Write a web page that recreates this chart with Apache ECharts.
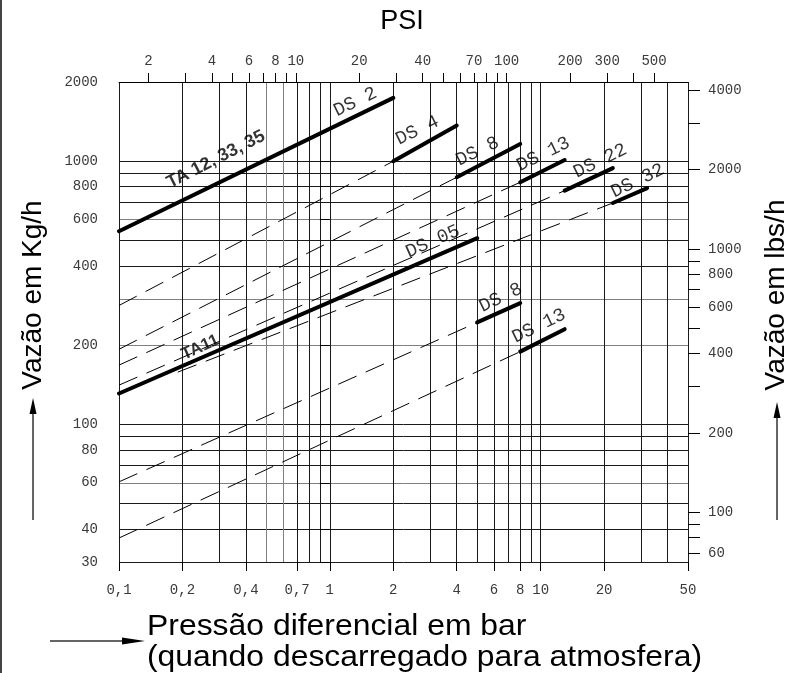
<!DOCTYPE html>
<html>
<head>
<meta charset="utf-8">
<script src="https://cdn.jsdelivr.net/npm/echarts@6/dist/echarts.min.js"></script>
<style>html,body{margin:0;padding:0;background:#fff}#c{width:790px;height:673px}</style>
</head>
<body>
<div id="c"></div>
<script>
// ---------------- data (pressure in bar, flow in kg/h) ----------------
const X_MIN = 0.1, X_MAX = 50;      // bar
const Y_MIN = 30, Y_MAX = 2000;     // kg/h
const PSI_PER_BAR = 14.5;
const LBS_PER_KG = 2.153;           // as drawn on the right-hand scale

const barGrid   = [0.1,0.2,0.3,0.4,0.5,0.6,0.7,0.8,0.9,1,2,3,4,5,6,7,8,9,10,20,30,40,50];
const barLabels = [0.1,0.2,0.4,0.7,1,2,4,6,8,10,20,50];
const kgGrid    = [30,40,50,60,70,80,90,100,200,300,400,500,600,700,800,900,1000,2000];
const kgLabels  = [30,40,60,80,100,200,400,600,800,1000,2000];
const psiTicks  = [2,3,4,5,6,7,8,9,10,20,30,40,50,60,70,80,90,100,200,300,400,500];
const psiLabels = [2,4,6,8,10,20,40,70,100,200,300,500];
const lbsTicks  = [70,80,90,100,200,300,400,500,600,700,800,900,1000,2000,3000,4000];
const lbsLabelAt   = [70,100,200,400,600,800,1000,2000,4000];
const lbsLabelText = ['60','100','200','400','600','800','1000','2000','4000'];

// capacity lines (solid, thick)
const TA_12_33_35 = [[0.1,542],[2,1740]];
const DS_4   = [[2,1000],[4,1366]];
const DS_8A  = [[4,869],[8,1163]];
const DS_13A = [[8,832],[13,1011]];
const DS_22  = [[13,773],[22,941]];
const DS_32  = [[22,694],[32,790]];
const TA11_DS_05 = [[0.1,131],[5,510]];
const DS_8B  = [[5,244],[8,289]];
const DS_13B = [[8,189],[13,230]];

// extension lines (dashed)
const DASH_A = [[0.1,283], DS_4[0]];
const DASH_B = [[0.1,193], DS_8A[0]];
const DASH_C = [[0.1,168], DS_13A[0]];
const DASH_D = [[0.1,141], DS_22[0]];
const DASH_G = [[0.19,158], DS_32[0]];
const DASH_E = [[0.1,60.5], DS_8B[0]];
const DASH_F = [[0.1,37], DS_13B[0]];

const thickLines  = [TA_12_33_35, DS_4, DS_8A, DS_13A, DS_22, DS_32, TA11_DS_05, DS_8B, DS_13B];
const dashedLines = [DASH_A, DASH_B, DASH_C, DASH_D, DASH_G, DASH_E, DASH_F];

// line labels: text, line, anchor point index
const lineLabels = [
  ['TA 12, 33, 35', TA_12_33_35, 0],
  ['DS 2',  TA_12_33_35, 1],
  ['DS 4',  DS_4, 0],
  ['DS 8',  DS_8A, 0],
  ['DS 13', DS_13A, 0],
  ['DS 22', DS_22, 0],
  ['DS 32', DS_32, 0],
  ['TA11',  TA11_DS_05, 0],
  ['DS 05', TA11_DS_05, 1],
  ['DS 8',  DS_8B, 0],
  ['DS 13', DS_13B, 0]
];

// ---------------- styles ----------------
const DARK = '#1a1a1a', GRAY = '#808080';
const barGridColors = barGrid.map(v => (v === 0.5 || v === 0.6) ? GRAY : DARK);
const kgGridColors  = kgGrid.map(v => (v === 60 || v === 200 || v === 300 || v === 600) ? GRAY : DARK);
// label placement: [offset along line, offset across line], rotation, bold, size
const labelStyles = [
  [[119,-20], 27, true, 18],
  [[-36,-13], 26, false, 19],
  [[35,-17], 26, false, 19],
  [[30,-14], 26, false, 19],
  [[33,-15], 26, false, 19],
  [[45,-11], 26, false, 19],
  [[32,-9], 26, false, 19],
  [[93,-9], 24, true, 17],
  [[-42,-15], 24, false, 19],
  [[32,-12], 26, false, 19],
  [[28,-15], 26, false, 19]
];

// ---------------- build ----------------
const L = v => Math.log10(v);
const pt = p => [L(p[0]), L(p[1])];
const fmtNum = v => String(Number(Math.pow(10, v).toPrecision(3))).replace('.', ',');
const nearestIdx = (arr, v) => {
  let bi = 0, bd = Infinity;
  arr.forEach((a, i) => { const d = Math.abs(L(a) - v); if (d < bd) { bd = d; bi = i; } });
  return bi;
};
const tickFont = { fontFamily: 'Liberation Mono', fontSize: 14, color: '#3a3a3a' };

const series = [];
thickLines.forEach(seg => series.push({
  type: 'line', xAxisIndex: 0, yAxisIndex: 0, data: seg.map(pt),
  symbol: 'none', silent: true, z: 5,
  lineStyle: { color: '#000', width: 4, cap: 'round' }
}));
dashedLines.forEach(seg => series.push({
  type: 'line', xAxisIndex: 0, yAxisIndex: 0, data: seg.map(pt),
  symbol: 'none', silent: true, z: 4,
  lineStyle: { color: '#000', width: 1, type: [20, 10] }
}));
series.push({
  type: 'scatter', xAxisIndex: 0, yAxisIndex: 0, silent: true, z: 6,
  symbol: 'circle', symbolSize: 1, itemStyle: { color: 'transparent' },
  data: lineLabels.map((lb, i) => {
    const st = labelStyles[i];
    return {
      value: pt(lb[1][lb[2]]),
      label: {
        show: true, position: 'inside', formatter: lb[0],
        offset: st[0], rotate: st[1],
        fontFamily: st[2] ? 'Liberation Sans' : 'Liberation Mono',
        fontWeight: st[2] ? 'bold' : 'normal',
        fontSize: st[3], color: '#000'
      }
    };
  })
});

const option = {
  animation: false,
  backgroundColor: '#fff',
  grid: { left: 119, top: 82, width: 569, height: 480 },
  xAxis: [
    {
      type: 'value', position: 'bottom', min: L(X_MIN), max: L(X_MAX),
      axisLine: { show: false },
      axisTick: { show: false, customValues: barGrid.map(L) },
      splitLine: { show: true, lineStyle: { color: barGridColors, width: 1 } },
      axisLabel: Object.assign({ customValues: barLabels.map(L), formatter: fmtNum, margin: 21 }, tickFont)
    },
    {
      type: 'value', position: 'bottom', min: L(X_MIN), max: L(X_MAX),
      axisLine: { show: false },
      axisTick: { show: true, inside: false, length: 9, customValues: barLabels.map(L), lineStyle: { color: '#000' } },
      axisLabel: { show: false }, splitLine: { show: false }
    },
    {
      type: 'value', position: 'top', min: L(X_MIN * PSI_PER_BAR), max: L(X_MAX * PSI_PER_BAR),
      axisLine: { show: true, lineStyle: { color: '#000', width: 1 } },
      axisTick: { show: true, inside: false, length: 9, customValues: psiTicks.map(L), lineStyle: { color: '#000' } },
      axisLabel: Object.assign({ customValues: psiLabels.map(L), formatter: fmtNum, margin: 14 }, tickFont),
      splitLine: { show: false }
    }
  ],
  yAxis: [
    {
      type: 'value', position: 'left', min: L(Y_MIN), max: L(Y_MAX),
      axisLine: { show: false },
      axisTick: { show: false, customValues: kgGrid.map(L) },
      splitLine: { show: true, lineStyle: { color: kgGridColors, width: 1 } },
      axisLabel: Object.assign({ customValues: kgLabels.map(L), formatter: fmtNum, margin: 21 }, tickFont)
    },
    {
      type: 'value', position: 'left', min: L(Y_MIN), max: L(Y_MAX),
      axisLine: { show: false },
      axisTick: { show: true, inside: false, length: 10, customValues: kgLabels.map(L), lineStyle: { color: '#000' } },
      axisLabel: { show: false }, splitLine: { show: false }
    },
    {
      type: 'value', position: 'right', min: L(Y_MIN * LBS_PER_KG), max: L(Y_MAX * LBS_PER_KG),
      axisLine: { show: false },
      axisTick: { show: true, inside: false, length: 12, customValues: lbsTicks.map(L), lineStyle: { color: '#000' } },
      axisLabel: Object.assign({ customValues: lbsLabelAt.map(L), formatter: v => lbsLabelText[nearestIdx(lbsLabelAt, v)], margin: 20 }, tickFont),
      splitLine: { show: false }
    }
  ],
  graphic: [
    { type: 'line', shape: { x1: 1, y1: 0, x2: 1, y2: 673 }, style: { stroke: '#444', lineWidth: 2 }, silent: true },
    { type: 'text', x: 402, y: 22, style: { text: 'PSI', fontSize: 27, fontFamily: 'Liberation Sans', fill: '#000', align: 'center', verticalAlign: 'middle', textAlign: 'center', textVerticalAlign: 'middle' } },
    { type: 'text', x: 33, y: 295, rotation: Math.PI / 2, style: { text: 'Vazão em Kg/h', fontSize: 28, fontFamily: 'Liberation Sans', fill: '#000', align: 'center', verticalAlign: 'middle', textAlign: 'center', textVerticalAlign: 'middle' } },
    { type: 'text', x: 776, y: 295, rotation: Math.PI / 2, style: { text: 'Vazão em lbs/h', fontSize: 28, fontFamily: 'Liberation Sans', fill: '#000', align: 'center', verticalAlign: 'middle', textAlign: 'center', textVerticalAlign: 'middle' } },
    { type: 'text', x: 147, y: 627, scaleX: 1.1, style: { text: 'Pressão diferencial em bar', fontSize: 29, fontFamily: 'Liberation Sans', fill: '#000', align: 'left', verticalAlign: 'middle', textAlign: 'left', textVerticalAlign: 'middle' } },
    { type: 'text', x: 147, y: 658, scaleX: 1.1, style: { text: '(quando descarregado para atmosfera)', fontSize: 29, fontFamily: 'Liberation Sans', fill: '#000', align: 'left', verticalAlign: 'middle', textAlign: 'left', textVerticalAlign: 'middle' } },
    { type: 'line', shape: { x1: 50, y1: 641, x2: 126, y2: 641 }, style: { stroke: '#333', lineWidth: 1.5 }, silent: true },
    { type: 'polygon', shape: { points: [[145, 641], [122, 637.5], [122, 644.5]] }, style: { fill: '#000' }, silent: true },
    { type: 'line', shape: { x1: 33, y1: 520, x2: 33, y2: 410 }, style: { stroke: '#333', lineWidth: 1.5 }, silent: true },
    { type: 'polygon', shape: { points: [[33, 398], [29.5, 414], [36.5, 414]] }, style: { fill: '#000' }, silent: true },
    { type: 'line', shape: { x1: 777, y1: 520, x2: 777, y2: 414 }, style: { stroke: '#333', lineWidth: 1.5 }, silent: true },
    { type: 'polygon', shape: { points: [[777, 402], [773.5, 418], [780.5, 418]] }, style: { fill: '#000' }, silent: true }
  ],
  series: series
};

const chart = echarts.init(document.getElementById('c'));
chart.setOption(option);
</script>
</body>
</html>
